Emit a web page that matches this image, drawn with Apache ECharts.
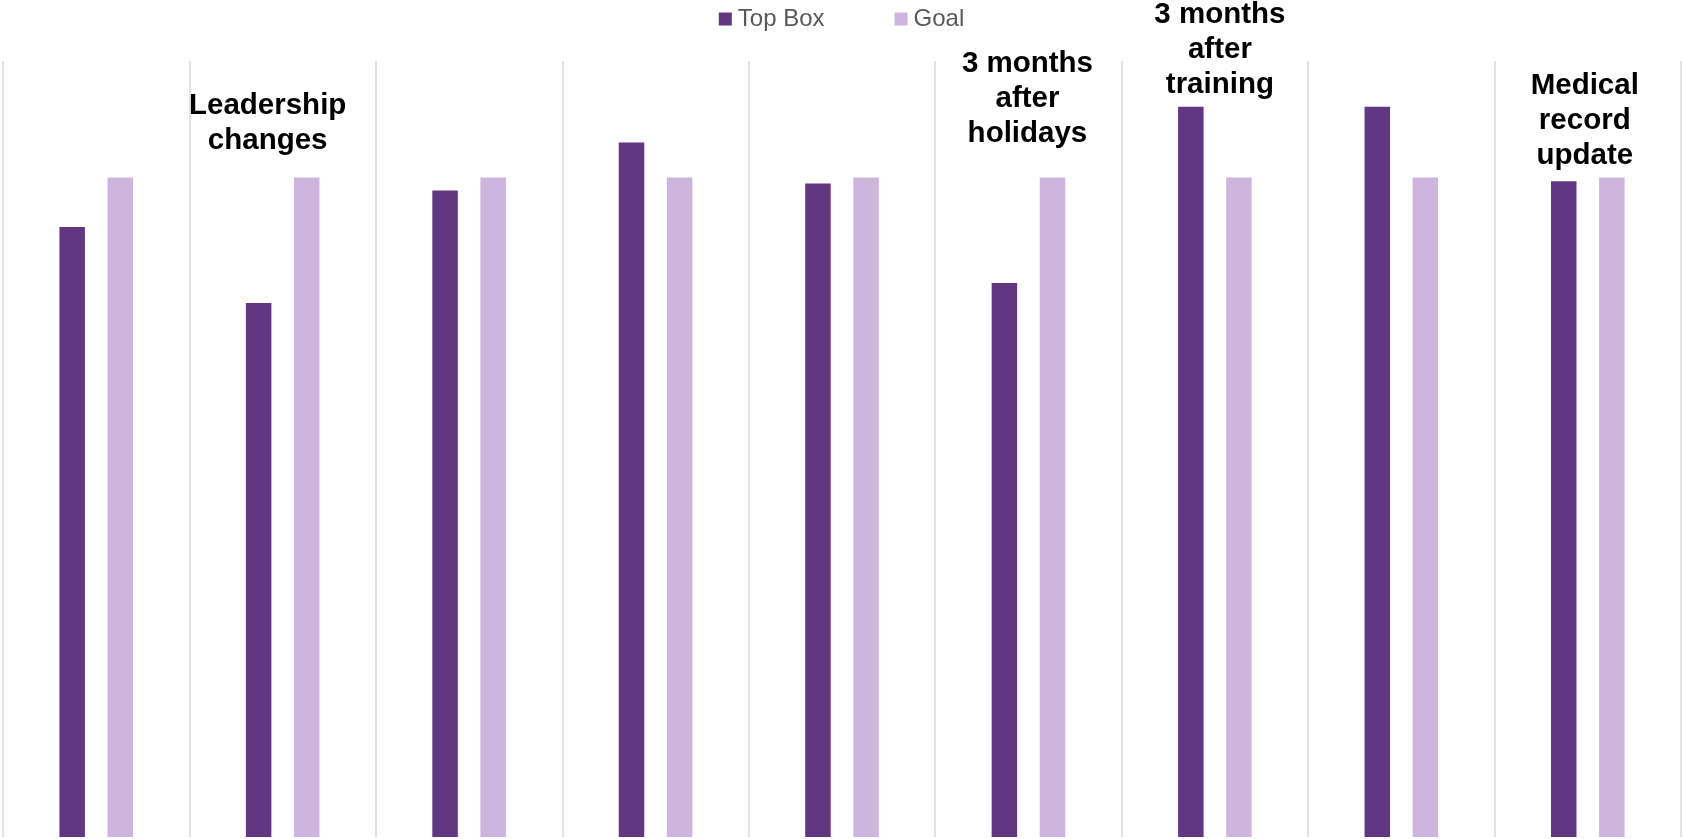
<!DOCTYPE html>
<html>
<head>
<meta charset="utf-8">
<script src="https://cdn.jsdelivr.net/npm/echarts@6/dist/echarts.min.js"></script>
<style>
html,body{margin:0;padding:0;background:#fff;}
#chart{width:1683px;height:839px;}
</style>
</head>
<body>
<div id="chart"></div>
<script>
// ---- data ----
const categories = ['P1','P2','P3','P4','P5','P6','P7','P8','P9'];
const topBox = [78.6, 68.8, 83.3, 89.5, 84.2, 71.4, 94.1, 94.1, 84.5];
const goal   = [85, 85, 85, 85, 85, 85, 85, 85, 85];
const seriesNames = ['Top Box', 'Goal'];
const annotationCategory = ['P2', 'P6', 'P7', 'P9'];
const annotationText = [
  'Leadership\nchanges',
  '3 months\nafter\nholidays',
  '3 months\nafter\ntraining',
  'Medical\nrecord\nupdate'
];

// ---- layout of annotations (pixel offsets, kept apart from data) ----
const annotationDx  = [-15, -1, 5, -3];
const annotationTop = [88, 46, -3, 68];

const chart = echarts.init(document.getElementById('chart'), null, {renderer: 'canvas'});
const FONT = '"Liberation Sans", Arial, sans-serif';

chart.setOption({
  animation: false,
  backgroundColor: '#ffffff',
  legend: {
    data: seriesNames,
    top: 7,
    left: 'center',
    padding: 0,
    itemWidth: 13,
    itemHeight: 13,
    itemGap: 70,
    icon: 'rect',
    textStyle: {fontFamily: FONT, fontSize: 24, color: '#595959', padding: [0, 0, 0, 1]}
  },
  grid: {left: 3, right: 2, top: 61, bottom: 2, containLabel: false},
  xAxis: {
    type: 'category',
    data: categories,
    boundaryGap: true,
    axisLine: {show: false},
    axisTick: {show: false},
    axisLabel: {show: false},
    splitLine: {show: true, interval: 0, lineStyle: {color: '#d9d9d9', width: 1.5}}
  },
  yAxis: {
    type: 'value',
    min: 0,
    max: 100,
    show: false,
    splitLine: {show: false}
  },
  series: [
    {
      name: seriesNames[0],
      type: 'bar',
      data: topBox,
      barWidth: 25.5,
      barGap: '88.6%',
      itemStyle: {color: '#613683'}
    },
    {
      name: seriesNames[1],
      type: 'bar',
      data: goal,
      barWidth: 25.5,
      itemStyle: {color: '#ceb5e0'}
    }
  ]
});

const graphics = annotationCategory.map((cat, i) => {
  const x = chart.convertToPixel({xAxisIndex: 0}, cat) + annotationDx[i];
  return {
    type: 'text',
    x: x,
    y: annotationTop[i],
    style: {
      text: annotationText[i],
      fontFamily: FONT,
      fontWeight: 'bold',
      fontSize: 29.5,
      lineHeight: 35,
      fill: '#000000',
      align: 'center',
      verticalAlign: 'top'
    }
  };
});
chart.setOption({graphic: graphics});
</script>
</body>
</html>
